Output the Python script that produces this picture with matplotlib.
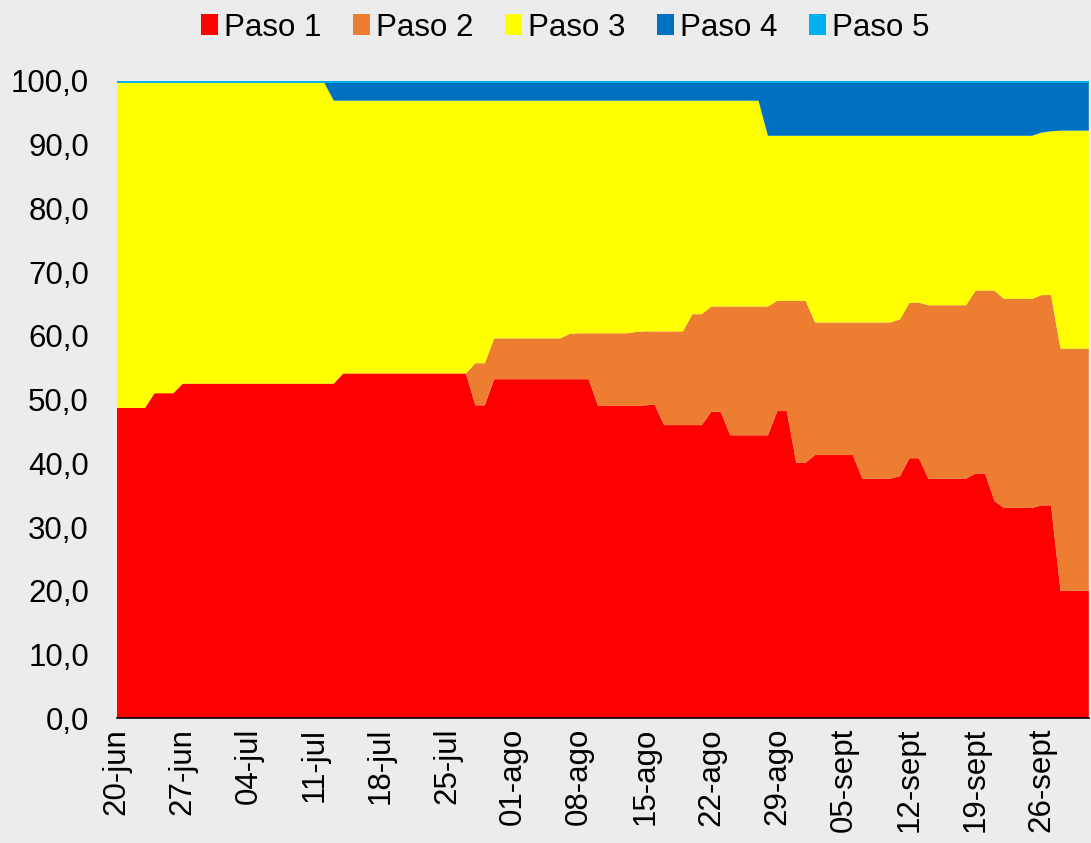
import numpy as np
import pandas as pd
import matplotlib.pyplot as plt
from matplotlib.patches import Patch
from matplotlib.ticker import FuncFormatter

plt.rcParams["font.family"] = ["Liberation Sans", "DejaVu Sans"]

# daily share (%) of communes in each step, 20-jun .. 01-oct
START = "2021-06-20"
N_DAYS = 104

PASO_1 = [
    48.7, 48.7, 48.7, 48.7, 51.0, 51.0, 51.0,
    52.5, 52.5, 52.5, 52.5, 52.5, 52.5, 52.5,
    52.5, 52.5, 52.5, 52.5, 52.5, 52.5, 52.5,
    52.5, 52.5, 52.5, 54.1, 54.1, 54.1, 54.1,
    54.1, 54.1, 54.1, 54.1, 54.1, 54.1, 54.1,
    54.1, 54.1, 54.1, 49.1, 49.1, 53.2, 53.2,
    53.2, 53.2, 53.2, 53.2, 53.2, 53.2, 53.2,
    53.2, 53.2, 49.0, 49.0, 49.0, 49.0, 49.0,
    49.1, 49.2, 46.0, 46.0, 46.0, 46.0, 46.0,
    48.1, 48.1, 44.4, 44.4, 44.4, 44.4, 44.4,
    48.2, 48.2, 40.1, 40.1, 41.3, 41.3, 41.3,
    41.3, 41.3, 37.6, 37.6, 37.6, 37.6, 38.0,
    40.8, 40.8, 37.6, 37.6, 37.6, 37.6, 37.6,
    38.4, 38.4, 34.1, 33.0, 33.0, 33.0, 33.0,
    33.4, 33.4, 20.0, 20.0, 20.0, 20.0,
]
PASO_2 = [
    0, 0, 0, 0, 0, 0, 0,
    0, 0, 0, 0, 0, 0, 0,
    0, 0, 0, 0, 0, 0, 0,
    0, 0, 0, 0, 0, 0, 0,
    0, 0, 0, 0, 0, 0, 0,
    0, 0, 0, 6.6, 6.6, 6.4, 6.4,
    6.4, 6.4, 6.4, 6.4, 6.4, 6.4, 7.1,
    7.2, 7.2, 11.4, 11.4, 11.4, 11.4, 11.6,
    11.6, 11.5, 14.7, 14.7, 14.7, 17.4, 17.4,
    16.5, 16.5, 20.2, 20.2, 20.2, 20.2, 20.2,
    17.3, 17.3, 25.4, 25.4, 20.8, 20.8, 20.8,
    20.8, 20.8, 24.5, 24.5, 24.5, 24.5, 24.6,
    24.4, 24.4, 27.2, 27.2, 27.2, 27.2, 27.2,
    28.7, 28.7, 33.0, 32.8, 32.8, 32.8, 32.8,
    33.0, 33.0, 38.0, 38.0, 38.0, 38.0,
]
PASO_3 = [
    51.0, 51.0, 51.0, 51.0, 48.7, 48.7, 48.7,
    47.2, 47.2, 47.2, 47.2, 47.2, 47.2, 47.2,
    47.2, 47.2, 47.2, 47.2, 47.2, 47.2, 47.2,
    47.2, 47.2, 44.4, 42.8, 42.8, 42.8, 42.8,
    42.8, 42.8, 42.8, 42.8, 42.8, 42.8, 42.8,
    42.8, 42.8, 42.8, 41.2, 41.2, 37.3, 37.3,
    37.3, 37.3, 37.3, 37.3, 37.3, 37.3, 36.6,
    36.5, 36.5, 36.5, 36.5, 36.5, 36.5, 36.3,
    36.2, 36.2, 36.2, 36.2, 36.2, 33.5, 33.5,
    32.3, 32.3, 32.3, 32.3, 32.3, 32.3, 26.8,
    25.9, 25.9, 25.9, 25.9, 29.3, 29.3, 29.3,
    29.3, 29.3, 29.3, 29.3, 29.3, 29.3, 28.8,
    26.2, 26.2, 26.6, 26.6, 26.6, 26.6, 26.6,
    24.3, 24.3, 24.3, 25.6, 25.6, 25.6, 25.6,
    25.5, 25.7, 34.2, 34.2, 34.2, 34.2,
]
PASO_4 = [
    0, 0, 0, 0, 0, 0, 0,
    0, 0, 0, 0, 0, 0, 0,
    0, 0, 0, 0, 0, 0, 0,
    0, 0, 2.8, 2.8, 2.8, 2.8, 2.8,
    2.8, 2.8, 2.8, 2.8, 2.8, 2.8, 2.8,
    2.8, 2.8, 2.8, 2.8, 2.8, 2.8, 2.8,
    2.8, 2.8, 2.8, 2.8, 2.8, 2.8, 2.8,
    2.8, 2.8, 2.8, 2.8, 2.8, 2.8, 2.8,
    2.8, 2.8, 2.8, 2.8, 2.8, 2.8, 2.8,
    2.8, 2.8, 2.8, 2.8, 2.8, 2.8, 8.3,
    8.3, 8.3, 8.3, 8.3, 8.3, 8.3, 8.3,
    8.3, 8.3, 8.3, 8.3, 8.3, 8.3, 8.3,
    8.3, 8.3, 8.3, 8.3, 8.3, 8.3, 8.3,
    8.3, 8.3, 8.3, 8.3, 8.3, 8.3, 8.3,
    7.8, 7.6, 7.5, 7.5, 7.5, 7.5,
]
PASO_5 = [0.3] * N_DAYS

LABELS = ["Paso 1", "Paso 2", "Paso 3", "Paso 4", "Paso 5"]
COLORS = ["#ff0000", "#ed7d31", "#ffff00", "#0070c0", "#00b0f0"]
TICK_LABELS = ["20-jun", "27-jun", "04-jul", "11-jul", "18-jul", "25-jul",
               "01-ago", "08-ago", "15-ago", "22-ago", "29-ago", "05-sept",
               "12-sept", "19-sept", "26-sept"]

BG = "#ececec"

dates = pd.date_range(START, periods=N_DAYS, freq="D")
series = [PASO_1, PASO_2, PASO_3, PASO_4, PASO_5]

fig = plt.figure(figsize=(10.91, 8.43), dpi=100, facecolor=BG)
ax = fig.add_axes([0.107, 0.148, 0.891, 0.756])
ax.set_facecolor(BG)

ax.stackplot(dates, *series, colors=COLORS, lw=0)

ax.set_xlim(dates[0], dates[-1])
ax.set_ylim(0, 100)
ax.set_yticks(np.arange(0, 101, 10))
ax.yaxis.set_major_formatter(FuncFormatter(lambda v, _: f"{v:.1f}".replace(".", ",")))
ax.set_xticks(dates[::7][:len(TICK_LABELS)])
ax.set_xticklabels(TICK_LABELS, rotation=90)
ax.tick_params(axis="y", length=0, pad=20, labelsize=22.5)
ax.tick_params(axis="x", length=0, pad=7, labelsize=22.5)

for side in ["left", "right", "top"]:
    ax.spines[side].set_visible(False)
ax.spines["bottom"].set_color("black")
ax.spines["bottom"].set_linewidth(1.2)

handles = [Patch(facecolor=c, edgecolor="none") for c in COLORS]
fig.legend(handles, LABELS, loc="center", bbox_to_anchor=(0.518, 0.967),
           ncol=5, frameon=False, fontsize=22.5, handlelength=0.55,
           handleheight=0.65, handletextpad=0.2, columnspacing=1.0)

fig.savefig("out.png", dpi=100, facecolor=BG)
